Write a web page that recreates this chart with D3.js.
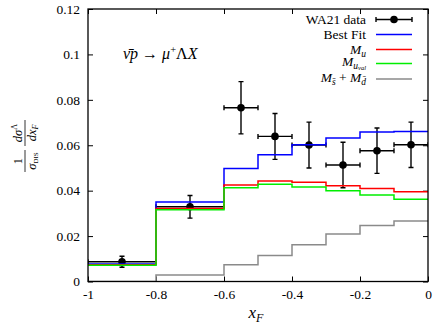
<!DOCTYPE html>
<html><head><meta charset="utf-8">
<script src="https://cdn.jsdelivr.net/npm/d3@7"></script>
<style>
html,body{margin:0;padding:0;background:#fff;}
svg text{font-family:"Liberation Serif","Times New Roman",serif;}
</style></head>
<body><svg id="c" width="436" height="327" font-family="Liberation Serif, serif"></svg>
<script>
// ---- data ----
const binEdges = [-1, -0.8, -0.6, -0.5, -0.4, -0.3, -0.2, -0.1, 0];
const bestFit = [0.0077, 0.0350, 0.0498, 0.0558, 0.0602, 0.0632, 0.0658, 0.0661];
const mU      = [0.0074, 0.0322, 0.0425, 0.0443, 0.0437, 0.0422, 0.0409, 0.0395];
const mUval   = [0.0072, 0.0316, 0.0413, 0.0428, 0.0416, 0.0400, 0.0381, 0.0362];
const mSbarDbar = [0.0, 0.0029, 0.0074, 0.0115, 0.0162, 0.0209, 0.0247, 0.0266];

const dataX    = [-0.9, -0.7, -0.55, -0.45, -0.35, -0.25, -0.15, -0.05];
const dataXerr = [0.1, 0.1, 0.05, 0.05, 0.05, 0.05, 0.05, 0.05];
const dataY    = [0.0087, 0.0329, 0.0765, 0.0639, 0.0601, 0.0513, 0.0576, 0.0602];
const dataYerr = [0.0024, 0.0050, 0.0115, 0.0101, 0.0101, 0.0100, 0.0100, 0.0100];

const xTicks = [-1, -0.8, -0.6, -0.4, -0.2, 0];
const xTickLabels = ["-1", "-0.8", "-0.6", "-0.4", "-0.2", "0"];
const yTicks = [0, 0.02, 0.04, 0.06, 0.08, 0.1, 0.12];
const yTickLabels = ["0", "0.02", "0.04", "0.06", "0.08", "0.1", "0.12"];

// ---- layout ----
const L = 88, R = 428, T = 9, B = 281.5;
const FONT = "'Liberation Serif', 'Times New Roman', serif";
const svg = d3.select("#c");
const x = d3.scaleLinear().domain([-1, 0]).range([L, R]);
const y = d3.scaleLinear().domain([0, 0.12]).range([B, T]);
const FS = 13.5;

svg.append("defs").append("clipPath").attr("id","clip")
  .append("rect").attr("x",L).attr("y",T).attr("width",R-L).attr("height",B-T);

// axes (inner ticks on all sides)
const tl = 5;
const gB = svg.append("g").attr("transform",`translate(0,${B})`)
  .call(d3.axisBottom(x).tickValues(xTicks).tickSize(-tl).tickPadding(8)
        .tickFormat((d,i)=>xTickLabels[i]));
const gT = svg.append("g").attr("transform",`translate(0,${T})`)
  .call(d3.axisTop(x).tickValues(xTicks).tickSize(-tl).tickFormat(""));
const gL = svg.append("g").attr("transform",`translate(${L},0)`)
  .call(d3.axisLeft(y).tickValues(yTicks).tickSize(-tl).tickPadding(8)
        .tickFormat((d,i)=>yTickLabels[i]));
const gR = svg.append("g").attr("transform",`translate(${R},0)`)
  .call(d3.axisRight(y).tickValues(yTicks).tickSize(-tl).tickFormat(""));
[gB,gT,gL,gR].forEach(g=>{
  g.attr("font-family", null).attr("font-size", null);
  g.select(".domain").remove();
  g.selectAll(".tick line").attr("stroke","#000").attr("stroke-width",1);
  g.selectAll(".tick text").attr("fill","#000").style("font-size",FS+"px")
   .style("font-family",FONT);
});
gB.selectAll(".tick text").attr("dy","0.71em");

// data with error bars
const gd = svg.append("g").attr("clip-path","url(#clip)");
const cap = 2.5;
const ln = (g,a,b,c,d)=>g.append("line").attr("x1",a).attr("y1",b).attr("x2",c).attr("y2",d)
      .attr("stroke","#000").attr("stroke-width",1.4);
dataX.forEach((xv,i)=>{
  const cx = x(xv), cy = y(dataY[i]);
  const x0 = x(xv-dataXerr[i]), x1 = x(xv+dataXerr[i]);
  const y0 = y(dataY[i]-dataYerr[i]), y1 = y(dataY[i]+dataYerr[i]);
  ln(gd,x0,cy,x1,cy); ln(gd,x0,cy-cap,x0,cy+cap); ln(gd,x1,cy-cap,x1,cy+cap);
  ln(gd,cx,y0,cx,y1); ln(gd,cx-cap,y0,cx+cap,y0); ln(gd,cx-cap,y1,cx+cap,y1);
  gd.append("circle").attr("cx",cx).attr("cy",cy).attr("r",3.8).attr("fill","#000");
});

// step curves
const stepLine = d3.line().x(d=>x(d[0])).y(d=>y(d[1])).curve(d3.curveStepAfter);
function steps(vals){
  const pts = vals.map((v,i)=>[binEdges[i], v]);
  pts.push([binEdges[binEdges.length-1], vals[vals.length-1]]);
  return pts;
}
const series = [
  {vals: bestFit, color:"#0000ff"},
  {vals: mU, color:"#ff0000"},
  {vals: mUval, color:"#00ee00"},
  {vals: mSbarDbar, color:"#8a8a8a"}
];
const gs = svg.append("g").attr("clip-path","url(#clip)");
series.forEach(s=>{
  gs.append("path").attr("d", stepLine(steps(s.vals)))
    .attr("fill","none").attr("stroke",s.color).attr("stroke-width",1.5);
});

// frame
svg.append("rect").attr("x",L).attr("y",T).attr("width",R-L).attr("height",B-T)
  .attr("fill","none").attr("stroke","#000").attr("stroke-width",1.3);

// legend
const legX = 366, sx0 = 376, sx1 = 412;
const legY = [19.5, 34.5, 49.5, 63.5, 79];
function legText(i){
  return svg.append("text").attr("x",legX).attr("y",legY[i]).attr("dy","0.35em")
    .attr("text-anchor","end").style("font-size",FS+"px").style("font-family",FONT).attr("fill","#000");
}
legText(0).text("WA21 data");
legText(1).text("Best Fit");
let t2 = legText(2);
t2.append("tspan").attr("font-style","italic").text("M");
t2.append("tspan").attr("font-style","italic").attr("dy",2.5).style("font-size","9.5px").text("u");
let t3 = legText(3);
t3.attr("dy","0.2em");
t3.append("tspan").attr("font-style","italic").text("M");
t3.append("tspan").attr("font-style","italic").attr("dy",2.5).style("font-size","9.5px").text("u");
t3.append("tspan").attr("font-style","italic").attr("dy",1.5).style("font-size","6.5px").text("val");
let t4 = legText(4);
t4.attr("dy","0.25em");
t4.append("tspan").attr("font-style","italic").text("M");
t4.append("tspan").attr("font-style","italic").attr("dy",2.5).style("font-size","9.5px").text("s\u0304");
t4.append("tspan").attr("dy",-2.5).text(" + ");
t4.append("tspan").attr("font-style","italic").text("M");
t4.append("tspan").attr("font-style","italic").attr("dy",2.5).style("font-size","9.5px").text("d\u0304");

// legend samples
const sampColors = [null, "#0000ff", "#ff0000", "#00ee00", "#8a8a8a"];
legY.forEach((ly,i)=>{
  if(i===0){
    ln(svg,sx0,ly,sx1,ly);
    [sx0,sx1].forEach(xx=>ln(svg,xx,ly-cap,xx,ly+cap));
    svg.append("circle").attr("cx",(sx0+sx1)/2).attr("cy",ly).attr("r",3.8).attr("fill","#000");
  } else {
    svg.append("line").attr("x1",sx0).attr("x2",sx1).attr("y1",ly).attr("y2",ly)
      .attr("stroke",sampColors[i]).attr("stroke-width",1.5);
  }
});

// process label
const pt = svg.append("text").attr("x",123).attr("y",59).style("font-size","16px")
  .style("font-family",FONT).attr("fill","#000");
pt.append("tspan").attr("font-style","italic").text("\u03BD\u0304");
pt.append("tspan").attr("font-style","italic").text("p");
pt.append("tspan").text(" \u2192 ");
pt.append("tspan").attr("font-style","italic").text("\u03BC");
pt.append("tspan").attr("dy",-6).style("font-size","10.5px").text("+");
pt.append("tspan").attr("dy",6).text("\u039B");
pt.append("tspan").attr("font-style","italic").text("X");

// x-axis label
const xl = svg.append("text").attr("x",256).attr("y",318).attr("text-anchor","middle")
  .style("font-size","17px").style("font-family",FONT).attr("fill","#000");
xl.append("tspan").attr("font-style","italic").text("x");
xl.append("tspan").attr("font-style","italic").attr("dy",4).style("font-size","12px").text("F");

// y-axis label (rotated fraction)
const gy = svg.append("g").attr("transform","translate(25,146) rotate(-90)");
const fs2 = 12.5;
function ctext(g, xx, yy, size){
  return g.append("text").attr("x",xx).attr("y",yy).attr("text-anchor","middle")
    .style("font-size",size+"px").style("font-family",FONT).attr("fill","#000");
}
ctext(gy,-15,-3.5,fs2).text("1");
gy.append("line").attr("x1",-26).attr("x2",-4).attr("y1",0).attr("y2",0).attr("stroke","#000").attr("stroke-width",0.8);
let den1 = ctext(gy,-15,11,fs2);
den1.append("tspan").attr("font-style","italic").text("\u03C3");
den1.append("tspan").attr("dy",2).style("font-size","7px").text("DIS");
let num2 = ctext(gy,13,-3.5,fs2);
num2.append("tspan").attr("font-style","italic").text("d\u03C3");
num2.append("tspan").attr("dy",-4.5).style("font-size","8px").text("\u039B");
gy.append("line").attr("x1",0).attr("x2",26).attr("y1",0).attr("y2",0).attr("stroke","#000").attr("stroke-width",0.8);
let den2 = ctext(gy,13,11,fs2);
den2.append("tspan").attr("font-style","italic").text("dx");
den2.append("tspan").attr("font-style","italic").attr("dy",2).style("font-size","8px").text("F");
</script></body></html>
